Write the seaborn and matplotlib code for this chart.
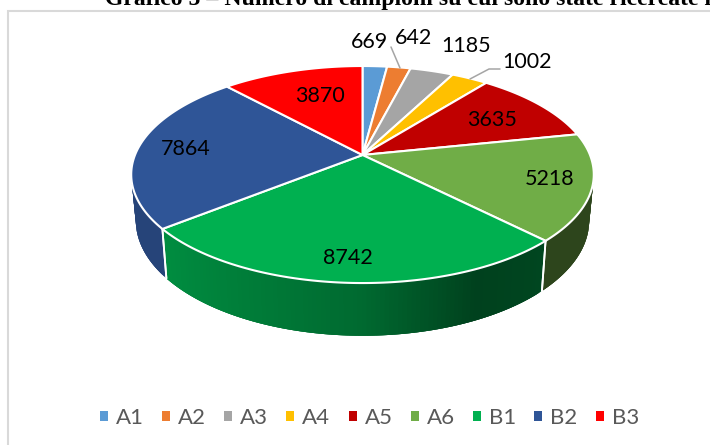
import numpy as np
import pandas as pd
import matplotlib
matplotlib.use("Agg")
import matplotlib.pyplot as plt
from matplotlib.patches import Polygon, Patch
from matplotlib.colors import to_rgb
import seaborn as sns

categories = ["A1", "A2", "A3", "A4", "A5", "A6", "B1", "B2", "B3"]
values = [669, 642, 1185, 1002, 3635, 5218, 8742, 7864, 3870]
colors = ["#5B9BD5", "#ED7D31", "#A5A5A5", "#FFC000", "#C00000", "#70AD47", "#00B050", "#2F5597", "#FF0000"]
title = "Grafico 5 \u2013 Numero di campioni su cui sono state ricercate le"

sns.set_theme(style="white")
plt.rcParams["font.family"] = ["Lato", "DejaVu Sans"]
df = pd.DataFrame({"cat": categories, "val": values})
df["start"] = df["val"].cumsum().shift(fill_value=0) / df["val"].sum() * 2 * np.pi
df["end"] = df["val"].cumsum() / df["val"].sum() * 2 * np.pi
palette = sns.color_palette(colors)

fig = plt.figure(figsize=(7.10, 4.45), dpi=100)
ax = fig.add_axes([0, 0, 1, 1])
ax.set_xlim(0, 710)
ax.set_ylim(445, 0)
ax.axis("off")

# layout of the perspective disc
CX, CY = 362.5, 155
K, A, C = 0.18, 105, 227.5
BOT_Y, BOT_SY, BOT_SX = 200, 1.06, 0.98


def top(t):
    u, v = np.sin(t), np.cos(t)
    w = 1 + K * v
    return CX + C * u / w, CY - A * v / w


def bottom(t):
    u, v = np.sin(t), np.cos(t)
    w = 1 + K * v
    return CX + BOT_SX * C * u / w, BOT_Y - BOT_SY * A * v / w


def shade(base, t):
    """Side-wall shading: darkest at lower right, lighter toward the left."""
    x = np.sin(t)
    f = np.interp(x, [-1.0, -0.78, 0.0, 0.42, 0.72, 1.0], [0.80, 0.80, 0.60, 0.37, 0.40, 0.40])
    return tuple(c * f for c in base)


ax.add_patch(Polygon([(8, 470), (8, 11), (730, 11)], closed=False, fill=False,
                     edgecolor="#D9D9D9", lw=1.5, zorder=1))

# side walls (only the near half is visible)
for _, row in df.iterrows():
    base = to_rgb(palette[categories.index(row["cat"])])
    lo, hi = max(row["start"], np.pi / 2), min(row["end"], 3 * np.pi / 2)
    if hi <= lo:
        continue
    n = int((hi - lo) * 60) + 2
    edges = np.linspace(lo, hi, n)
    for i in range(n - 1):
        ts = np.linspace(edges[i], edges[min(i + 3, n - 1)], 5)
        xt, yt = top(ts)
        xb, yb = bottom(ts)
        pts = list(zip(xt, yt)) + list(zip(xb[::-1], yb[::-1]))
        col = shade(base, (edges[i] + edges[i + 1]) / 2)
        ax.add_patch(Polygon(pts, closed=True, facecolor=col, edgecolor="none", zorder=2))
    for t in (row["start"], row["end"]):
        if np.pi / 2 < t < 3 * np.pi / 2:
            xt, yt = top(t)
            xb, yb = bottom(t)
            ax.plot([xt, xb], [yt, yb], color="white", lw=1.3, zorder=3)

# top faces
for _, row in df.iterrows():
    ts = np.linspace(row["start"], row["end"], 120)
    xs, ys = top(ts)
    pts = [(CX, CY)] + list(zip(xs, ys))
    ax.add_patch(Polygon(pts, closed=True, facecolor=palette[categories.index(row["cat"])],
                         edgecolor="white", lw=1.5, joinstyle="round", zorder=4))

# data labels
label_xy = {"A1": (369, 42), "A2": (413, 37.5), "A3": (466, 46), "A4": (527, 61.5), "A5": (492, 120),
            "A6": (550, 179), "B1": (348, 258), "B2": (186, 149), "B3": (320, 96)}
for cat, val in zip(categories, values):
    x, y = label_xy[cat]
    ax.text(x, y, str(val), ha="center", va="center", fontsize=15.5, color="black", zorder=6)

# leader lines
ax.plot([391, 400], [47, 68], color="#A5A5A5", lw=1.1, zorder=5)
ax.plot([470, 489, 500], [79, 69, 69], color="#A5A5A5", lw=1.1, zorder=5)

handles = [Patch(facecolor=p, edgecolor="none") for p in palette]
leg = ax.legend(handles, categories, ncol=9, loc="center", bbox_to_anchor=(369.5 / 710, 1 - 418 / 445),
                frameon=False, fontsize=16, handlelength=0.36, handleheight=0.36, handletextpad=0.36,
                columnspacing=0.817, labelcolor="#595959", borderpad=0)

ax.text(105, 5, title, family="Liberation Serif", weight="bold", fontsize=17.1, color="black",
        ha="left", va="baseline", clip_on=True, zorder=7)

fig.savefig("out.png", dpi=100)
